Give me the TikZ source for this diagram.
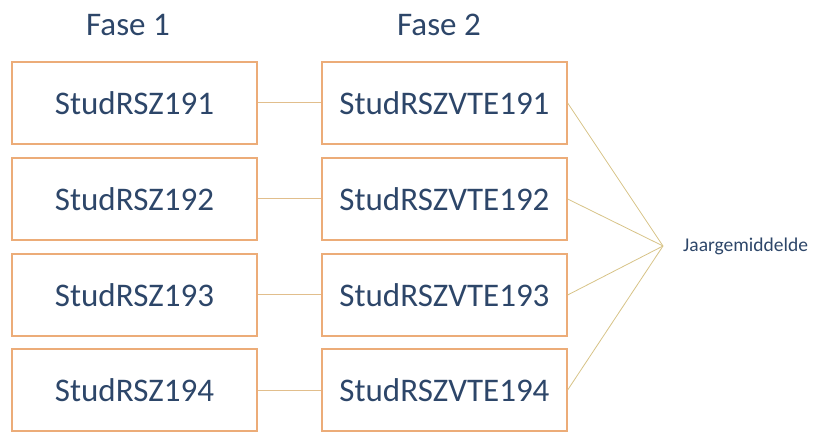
\documentclass[tikz,border=0pt]{standalone}
\usepackage{fontspec}
\setmainfont{Carlito}
\definecolor{txt}{RGB}{45,70,105}
\definecolor{bord}{RGB}{236,172,120}
\definecolor{conn}{RGB}{225,190,140}
\definecolor{diag}{RGB}{215,195,135}
\begin{document}
\begin{tikzpicture}[x=1pt,y=1pt,
  box/.style={draw=bord,line width=1.3pt,minimum width=245pt,minimum height=82pt,inner sep=0pt,
    font=\fontsize{33}{36}\selectfont,text=txt},
  head/.style={font=\fontsize{33}{36}\selectfont,text=txt,inner sep=0pt},
  hline/.style={draw=conn,line width=1pt},
  dline/.style={draw=diag,line width=0.8pt}]
\useasboundingbox (0,0) rectangle (813,431);
\node[head] (f1) at (128,406) {Fase 1};
\node[head] (f2) at (439,406) {Fase 2};
\foreach \i/\y in {1/328,2/232,3/136,4/41}{
  \node[box] (a\i) at (134.5,\y) {StudRSZ19\i};
  \node[box] (b\i) at (444.5,\y) {StudRSZVTE19\i};
  \draw[hline] (a\i.east) -- (b\i.east -| b\i.west);
}
\coordinate (m) at (663,185);
\node[font=\fontsize{19.5}{22}\selectfont,text=txt,anchor=west,inner sep=0pt] (j) at (683,185) {Jaargemiddelde};
\foreach \i in {1,2,3,4}{
  \draw[dline] (b\i.east) -- (m);
}
\end{tikzpicture}
\end{document}
